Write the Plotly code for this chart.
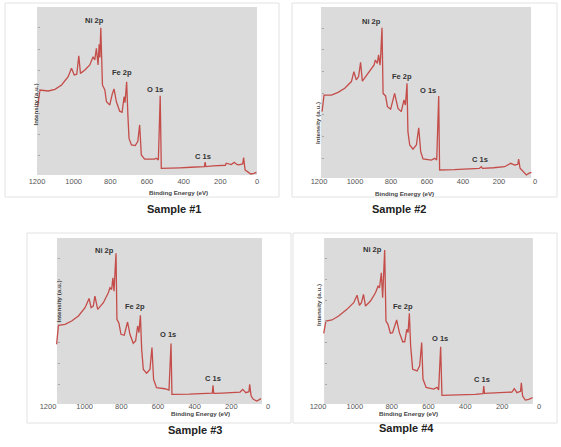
import plotly.graph_objects as go

W, H = 561, 447

# ---------------- data (binding energy eV, intensity a.u.) ----------------
s1_ev = [1196, 1184, 1139, 1102, 1066, 1030, 1012, 997, 983, 972, 963, 939, 912, 894, 885, 876, 867, 861, 857,
         852, 843, 830, 821, 803, 790, 780, 767, 749, 736, 725, 720, 711, 704, 698, 685, 664, 650, 640, 631,
         613, 559, 550, 538, 528, 522, 480, 420, 360, 300, 287, 283, 279, 240, 200, 172, 168, 140, 124, 110,
         100, 78, 73, 65, 52, 35, 17, 3]
s1_i = [40.7, 50.6, 50, 51, 53.6, 58.5, 63.5, 59.5, 60, 71, 60.5, 62.5, 65.5, 70.4, 68.5, 75.4, 65.5, 77.8, 70,
        87.7, 53.6, 50.6, 43.6, 41.7, 48, 51.2, 43.6, 38, 37.3, 46.6, 43, 55.5, 35, 21.8, 17.9, 17.5, 20, 29.8,
        11.9, 9.5, 9.5, 10, 9, 47.2, 4, 4, 4.3, 4.6, 5, 5, 7.6, 5, 5.4, 5.8, 5.8, 7, 6.2, 7.6, 6.3,
        6, 6.6, 10.3, 3, 2, 0.6, 1, 1.6]

s2_ev = [1183, 1172, 1131, 1094, 1057, 1020, 1006, 993, 980, 969, 959, 928, 894, 887, 876, 869, 861, 857, 850,
         844, 830, 820, 802, 780, 761, 743, 728, 720, 711, 706, 696, 678, 659, 646, 635, 622, 576, 557, 546,
         535, 530, 450, 380, 310, 298, 292, 230, 169, 135, 113, 95, 91, 83, 67, 48, 35, 20]
s2_i = [38.8, 48.5, 48.5, 50.1, 52.5, 56.4, 62.2, 57.4, 59.3, 67.6, 56.6, 61.2, 66.1, 69, 67, 72, 66, 72, 87.9,
        49.5, 48, 41.7, 40.3, 49.5, 40.7, 38.8, 45.6, 42.7, 55.4, 27.1, 19.3, 16.9, 19.3, 29.4, 15.4, 11.1,
        10.5, 11.5, 10.5, 48, 4.7, 4.9, 5.2, 5.6, 6.6, 5.6, 6, 6.6, 8.6, 7.6, 8, 11.1, 5.7, 3.7, 1.8, 2.7, 3.3]

s3_ev = [1153, 1143, 1107, 1071, 1034, 998, 976, 965, 953, 944, 929, 898, 871, 862, 853, 846, 840, 829, 824,
         813, 802, 784, 766, 753, 735, 722, 711, 704, 696, 689, 680, 662, 644, 633, 624, 608, 562, 540, 529,
         524, 430, 343, 304, 300, 296, 250, 152, 138, 121, 104, 100, 92, 80, 61, 38]
s3_i = [36, 47.4, 48, 50, 53, 58, 63.6, 58, 59, 65, 57, 61, 67, 70, 69, 76, 68, 90.8, 51,
        48.6, 42, 41.4, 49.4, 42, 36.6, 38, 47, 43, 53.4, 32.9, 20.8, 18.5, 20.8, 34, 14.8, 9.8, 9.2, 8.4, 36.5,
        5.8, 6, 6.4, 6.6, 11.2, 6.4, 6.6, 7.2, 8.8, 6.8, 7.4, 11.8, 4.8, 2.8, 1.8, 3.2]

s4_ev = [1169, 1157, 1124, 1088, 1043, 1006, 988, 975, 964, 953, 942, 915, 888, 874, 866, 856, 849, 838, 831,
         820, 807, 795, 773, 758, 740, 729, 718, 711, 704, 697, 686, 662, 648, 637, 630, 613, 572, 554, 545,
         534, 527, 440, 346, 304, 300, 296, 230, 147, 134, 120, 100, 96, 89, 74, 56, 35]
s4_i = [42.6, 50, 50.6, 53, 57, 61, 65.5, 59.5, 61, 66, 59, 62, 67, 71, 70, 79, 64, 92.8, 50,
        48, 42.6, 43, 50.6, 43, 37.5, 37.5, 45, 43, 54.6, 35, 20.9, 19.9, 23, 37, 15, 10, 9, 10, 8.5,
        34.5, 5.2, 5.4, 5.8, 6.2, 10.8, 6.4, 6.6, 7.2, 9.2, 6.8, 7.6, 12.8, 4.8, 2.4, 2.8, 3.8]

peak_names = ["Ni 2p", "Fe 2p", "O 1s", "C 1s"]
label_ev = [[889, 734, 557, 292], [907, 741, 593, 306], [894, 725, 544, 301], [905, 737, 538, 311]]
label_i = [[91.8, 60.9, 50.6, 10.9], [91.4, 59.6, 51.0, 10.9], [92.3, 59.0, 41.6, 15.5], [92.8, 59.0, 39.6, 14.9]]

sample_names = ["Sample #1", "Sample #2", "Sample #3", "Sample #4"]
x_ticks = [1200, 1000, 800, 600, 400, 200, 0]
gray_span = [(1200, 0), (1189, 22), (1151, 33), (1167, 33)]

series = [(s1_ev, s1_i), (s2_ev, s2_i), (s3_ev, s3_i), (s4_ev, s4_i)]

# ---------------- layout geometry (pixels) ----------------
xdom_px = [(37, 257), (319, 535), (48, 268), (318, 539)]
ydom_px = [(7, 175), (7, 178), (238, 404), (238, 404)]
xaxis_pos_px = [175, 175, 400, 400]
ypos_px = [37, 321, 57, 324]
frames_px = [(5, 3, 279, 197), (292, 3, 557, 197), (27, 233, 291, 423), (293, 233, 557, 423)]
xtitle_px = [(147, 192), (436, 193), (169, 419), (440, 419)]
ytitle_px = [(29, 82), (317, 100), (52, 325), (318, 328)]
sample_px = [(145, 209), (428, 209), (166, 438), (436, 436)]

LINE = "#c44d4a"
GRAY = "#dbdbdb"
FONT = "Liberation Sans, Arial, sans-serif"

def px2x(p):
    return p / W

def px2y(p):
    return 1 - p / H

fig = go.Figure()
shapes = []
annotations = []
for k in range(4):
    n = "" if k == 0 else str(k + 1)
    xa, ya = "x" + n, "y" + n
    ev, inten = series[k]
    fig.add_trace(go.Scatter(x=ev, y=inten, mode="lines", xaxis=xa, yaxis=ya,
                             line=dict(color=LINE, width=1.3), showlegend=False, hoverinfo="skip"))
    x0, x1 = xdom_px[k]
    y0, y1 = ydom_px[k]
    fig.update_layout(**{
        "xaxis" + n: dict(domain=[px2x(x0), px2x(x1)], range=[1200, 0], anchor="free",
                          position=px2y(xaxis_pos_px[k]), automargin=False,
                          tickvals=x_ticks, ticktext=[str(v) for v in x_ticks],
                          showgrid=False, zeroline=False, showline=False, ticks="",
                          tickfont=dict(family=FONT, size=7.5, color="#555")),
        "yaxis" + n: dict(domain=[px2y(y1), px2y(y0)], range=[0, 100], anchor="free", automargin=False,
                          position=px2x(ypos_px[k]), showgrid=False, zeroline=False, showline=False,
                          ticks="inside", ticklen=2, tickwidth=1, tickcolor="#a8a8a8",
                          tick0=11.5, dtick=12.7, showticklabels=False),
    })
    g0, g1 = gray_span[k]
    shapes.append(dict(type="rect", xref=xa, yref=ya + " domain", x0=g0, x1=g1, y0=0, y1=1,
                       fillcolor=GRAY, line=dict(width=0), layer="below"))
    fx0, fy0, fx1, fy1 = frames_px[k]
    shapes.append(dict(type="rect", xref="paper", yref="paper", x0=px2x(fx0), x1=px2x(fx1),
                       y0=px2y(fy1), y1=px2y(fy0), line=dict(color="#e2e2e2", width=1),
                       fillcolor="rgba(0,0,0,0)", layer="below"))
    for j, name in enumerate(peak_names):
        annotations.append(dict(x=label_ev[k][j], y=label_i[k][j], xref=xa, yref=ya, text="<b>%s</b>" % name,
                                showarrow=False, font=dict(family=FONT, size=7.5, color="#333")))
    tx, ty = xtitle_px[k]
    annotations.append(dict(x=px2x(tx), y=px2y(ty), xref="paper", yref="paper",
                            text="<b>Binding Energy (eV)</b>", showarrow=False,
                            font=dict(family=FONT, size=6.2, color="#444")))
    tx, ty = ytitle_px[k]
    annotations.append(dict(x=px2x(tx), y=px2y(ty), xref="paper", yref="paper",
                            text="<b>Intensity (a.u.)</b>", showarrow=False, textangle=-90,
                            font=dict(family=FONT, size=6.2, color="#444")))
    tx, ty = sample_px[k]
    annotations.append(dict(x=px2x(tx), y=px2y(ty), xref="paper", yref="paper",
                            text="<b>%s</b>" % sample_names[k], showarrow=False,
                            font=dict(family=FONT, size=11, color="#222")))

fig.update_layout(width=W, height=H, margin=dict(l=0, r=0, t=0, b=0, autoexpand=False),
                  paper_bgcolor="white", plot_bgcolor="rgba(0,0,0,0)",
                  shapes=shapes, annotations=annotations, showlegend=False)

fig.write_html("out.html", config={"displayModeBar": False},
               post_script="document.documentElement.style.margin='0';document.body.style.margin='0';"
                           "document.body.style.overflow='hidden';")
